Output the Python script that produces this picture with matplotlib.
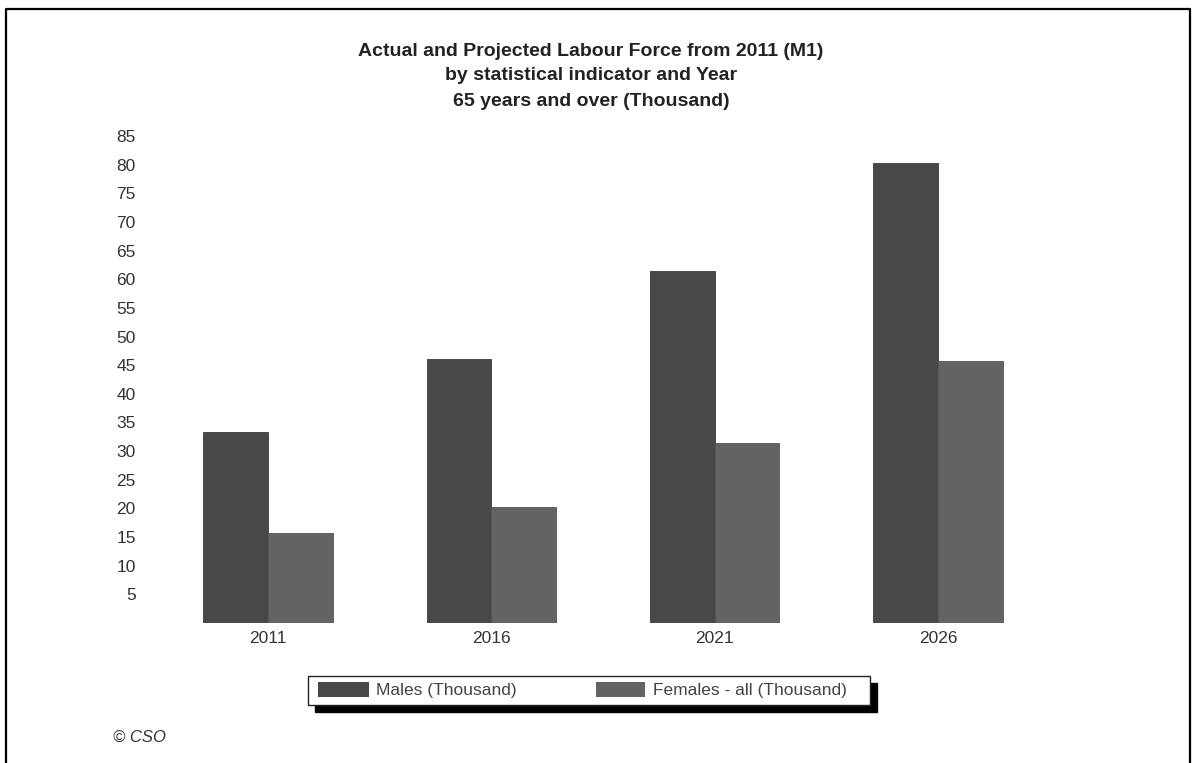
import matplotlib.pyplot as plt
import numpy as np
from matplotlib.patches import Rectangle
from matplotlib.lines import Line2D

plt.rcParams['font.family'] = ['Liberation Sans', 'DejaVu Sans']

years = ["2011", "2016", "2021", "2026"]
males = [33.3, 46.0, 61.4, 80.3]
females = [15.7, 20.2, 31.4, 45.7]
yticks = list(range(5, 90, 5))

male_col = "#484848"
female_col = "#636363"

fig = plt.figure(figsize=(11.95, 7.63), dpi=100)
W, H = 1195, 763
ax = fig.add_axes([156.5 / W, 1 - 623 / H, 893 / W, (623 - 112) / H])

x = np.arange(len(years))
bw = 0.29
ax.bar(x - bw / 2, males, bw, color=male_col, edgecolor="#3a3a3a", linewidth=0.6)
ax.bar(x + bw / 2, females, bw, color=female_col, edgecolor="#555555", linewidth=0.6)

ax.set_xlim(-0.5, 3.5)
ax.set_ylim(0, 85 * (623 - 112) / (623 - 136))
ax.set_yticks(yticks)
ax.set_yticklabels([str(v) for v in yticks])
ax.set_xticks(x)
ax.set_xticklabels(years)
ax.tick_params(axis="both", length=0, labelsize=12.5, colors="#333333")
ax.tick_params(axis="y", pad=15)
ax.tick_params(axis="x", pad=6)
for s in ax.spines.values():
    s.set_visible(False)

title_lines = ["Actual and Projected Labour Force from 2011 (M1)",
               "by statistical indicator and Year",
               "65 years and over (Thousand)"]
for i, t in enumerate(title_lines):
    fig.text(591 / W, 1 - (51 + 25 * i) / H, t, ha="center", va="center",
             fontsize=14, fontweight="bold", color="#222222")

# legend box with shadow
lx0, lx1, ly0, ly1 = 308, 870, 676, 705
fig.patches.append(Rectangle(((lx0 + 7) / W, 1 - (ly1 + 7) / H), (lx1 - lx0) / W, (ly1 - ly0) / H,
                             transform=fig.transFigure, facecolor="black", edgecolor="black"))
fig.patches.append(Rectangle((lx0 / W, 1 - ly1 / H), (lx1 - lx0) / W, (ly1 - ly0) / H,
                             transform=fig.transFigure, facecolor="white", edgecolor="#222222", linewidth=1))
fig.patches.append(Rectangle((318 / W, 1 - 697 / H), 51 / W, 15 / H,
                             transform=fig.transFigure, facecolor=male_col, edgecolor="none"))
fig.patches.append(Rectangle((596 / W, 1 - 697 / H), 49 / W, 15 / H,
                             transform=fig.transFigure, facecolor=female_col, edgecolor="none"))
fig.text(376 / W, 1 - 690 / H, "Males (Thousand)", ha="left", va="center", fontsize=12.5, color="#444444")
fig.text(653 / W, 1 - 690 / H, "Females - all (Thousand)", ha="left", va="center", fontsize=12.5, color="#444444")

fig.text(113 / W, 1 - 737 / H, "\u00a9 CSO", ha="left", va="center", fontsize=12, style="italic", color="#333333")

# outer frame
fig.lines.append(Line2D([6 / W, 6 / W, 1190 / W, 1190 / W], [0, 1 - 9 / H, 1 - 9 / H, 0],
                        transform=fig.transFigure, color="black", linewidth=1.6))

fig.savefig("out.png", dpi=100)
